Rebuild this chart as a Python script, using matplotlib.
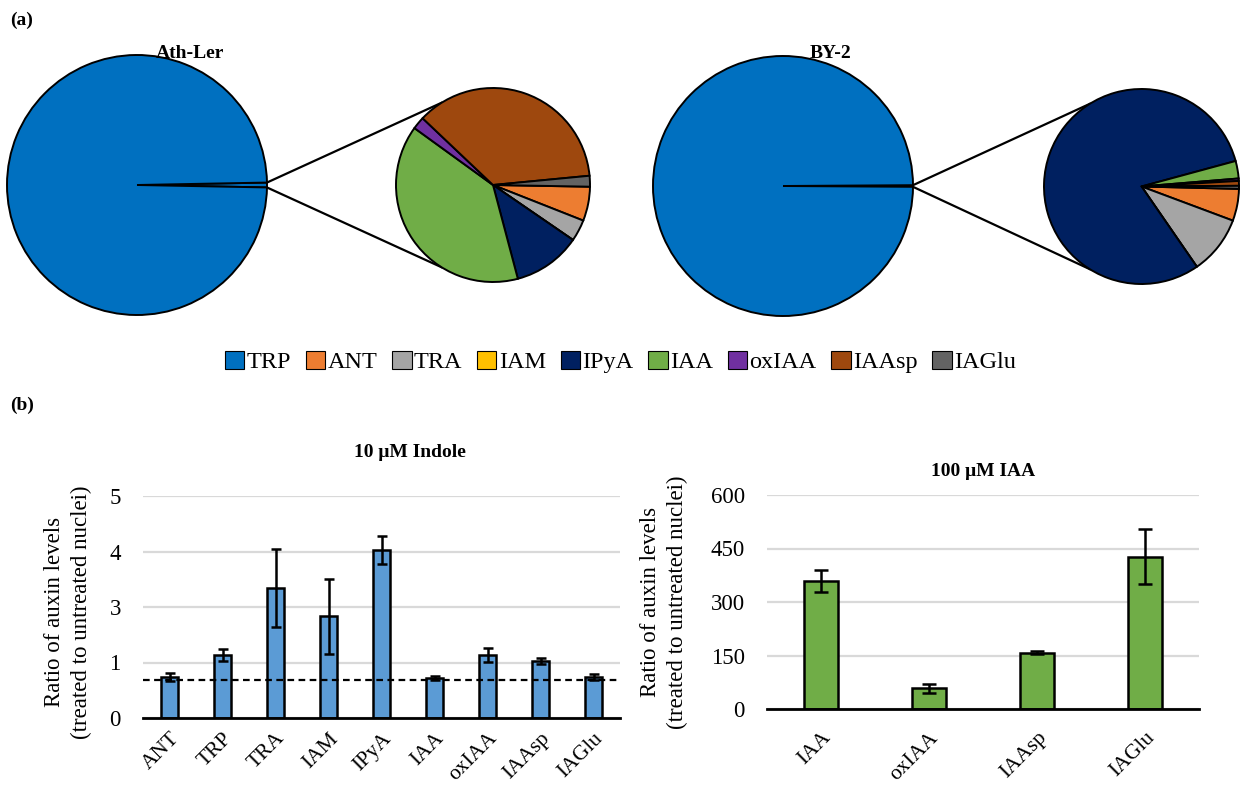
import numpy as np
import matplotlib.pyplot as plt
from matplotlib.patches import Patch

plt.rcParams['font.family'] = ['Liberation Serif', 'DejaVu Serif']

# pie data: TRP share of the main pie (%), the rest split in the secondary pie (%)
compounds = ['TRP', 'ANT', 'TRA', 'IAM', 'IPyA', 'IAA', 'oxIAA', 'IAAsp', 'IAGlu']
colors = ['#0070C0', '#ED7D31', '#A5A5A5', '#FFC000', '#002060',
          '#70AD47', '#7030A0', '#9E480E', '#636363']
ath_trp = 99.4
ath_minor = [5.7, 3.6, 0.0, 11.3, 39.1, 2.1, 36.4, 1.8]
by2_trp = 99.8
by2_minor = [5.3, 9.7, 0.0, 80.4, 2.9, 0.4, 0.8, 0.5]

# bar data
indole_cats = ['ANT', 'TRP', 'TRA', 'IAM', 'IPyA', 'IAA', 'oxIAA', 'IAAsp', 'IAGlu']
indole_vals = [0.74, 1.14, 2.34, 1.83, 3.03, 0.72, 1.14, 1.02, 0.74]
indole_err = [0.07, 0.11, 0.70, 0.68, 0.25, 0.035, 0.13, 0.055, 0.05]
indole_ticks = ['0', '1', '3', '4', '5']
indole_ref = 0.69

iaa_cats = ['IAA', 'oxIAA', 'IAAsp', 'IAGlu']
iaa_vals = [359, 58, 158, 427]
iaa_err = [30, 13, 4, 77]

W, H = 1241, 792
fig = plt.figure(figsize=(W / 100, H / 100), dpi=100)

# pie area in pixel coordinates
pax = fig.add_axes([0, 0, 1, 1])


def Y(y):
    return H - y


def pie_of_pie(trp, minor, c_main, R, c_sec, r, start2):
    other = 100 - trp
    h = 360 * other / 100 / 2
    pax.pie([other, trp], colors=['#0070C0', colors[0]], startangle=h, counterclock=False,
            center=(c_main[0], Y(c_main[1])), radius=R,
            wedgeprops=dict(edgecolor='black', linewidth=1.4))
    pax.pie(minor, colors=colors[1:], startangle=start2, counterclock=False,
            center=(c_sec[0], Y(c_sec[1])), radius=r,
            wedgeprops=dict(edgecolor='black', linewidth=1.4))
    for sgn in (1, -1):
        a1 = np.radians(sgn * h)
        a2 = np.radians(sgn * 122)
        pax.plot([c_main[0] + R * np.cos(a1), c_sec[0] + r * np.cos(a2)],
                 [Y(c_main[1]) + R * np.sin(a1), Y(c_sec[1]) + r * np.sin(a2)],
                 color='black', lw=1.6, zorder=0)


pie_of_pie(ath_trp, ath_minor, (137, 185), 130, (493, 185), 97, -1)
pie_of_pie(by2_trp, by2_minor, (783, 186), 130, (1141.5, 186.5), 97.5, -1.4)
pax.set_xlim(0, W)
pax.set_ylim(0, H)
pax.set_aspect('equal')
pax.axis('off')

fig.text(10 / W, 1 - 20 / H, '(a)', fontsize=14, fontweight='bold', va='center')
fig.text(190 / W, 1 - 53 / H, 'Ath-Ler', fontsize=14, fontweight='bold', ha='center', va='center')
fig.text(831 / W, 1 - 53 / H, 'BY-2', fontsize=14, fontweight='bold', ha='center', va='center')
fig.text(10 / W, 1 - 405 / H, '(b)', fontsize=14, fontweight='bold', va='center')

handles = [Patch(facecolor=c, edgecolor='black', linewidth=0.8) for c in colors]
fig.legend(handles, compounds, loc='center', bbox_to_anchor=(0.5, 1 - 362 / H), ncol=9,
           frameon=False, fontsize=17.5, handlelength=0.8, handleheight=0.8,
           handletextpad=0.1, columnspacing=0.6)


def style_bars(ax):
    for s in ['top', 'right', 'left']:
        ax.spines[s].set_visible(False)
    ax.spines['bottom'].set_linewidth(2)
    ax.spines['bottom'].set_zorder(5)
    ax.yaxis.grid(True, color='#D9D9D9', lw=1.6)
    ax.set_axisbelow(True)
    ax.tick_params(length=0, labelsize=16.5, pad=16)
    ax.tick_params(axis='x', labelsize=15.5, pad=8)


# left bar chart
ax1 = fig.add_axes([143 / W, 1 - 718 / H, 477 / W, 222 / H])
x1 = np.arange(len(indole_cats))
ax1.bar(x1, indole_vals, width=0.33, color='#5B9BD5', edgecolor='black', linewidth=1.8, zorder=2)
ax1.errorbar(x1, indole_vals, yerr=indole_err, fmt='none', ecolor='black', elinewidth=1.8,
             capsize=3.6, capthick=1.8, zorder=3)
ax1.axhline(indole_ref, color='black', lw=1.6, ls=(0, (3, 2)), zorder=4)
ax1.set_xlim(-0.5, len(indole_cats) - 0.5)
ax1.set_ylim(0, 4)
ax1.set_yticks(range(5))
ax1.set_yticklabels(indole_ticks)
ax1.set_xticks(x1)
ax1.set_xticklabels(indole_cats, rotation=45, ha='right', rotation_mode='anchor')
style_bars(ax1)
ax1.set_title('10 μM Indole', fontsize=14, fontweight='bold', x=0.56, pad=28)
fig.text(68 / W, 1 - 612 / H, 'Ratio of auxin levels\n(treated to untreated nuclei)',
         rotation=90, ha='center', va='center', fontsize=16.5, linespacing=1.35)

# right bar chart
ax2 = fig.add_axes([767 / W, 1 - 709 / H, 432 / W, 214 / H])
x2 = np.arange(len(iaa_cats))
ax2.bar(x2, iaa_vals, width=0.32, color='#70AD47', edgecolor='black', linewidth=1.8, zorder=2)
ax2.errorbar(x2, iaa_vals, yerr=iaa_err, fmt='none', ecolor='black', elinewidth=1.8,
             capsize=4.7, capthick=1.8, zorder=3)
ax2.set_xlim(-0.5, len(iaa_cats) - 0.5)
ax2.set_ylim(0, 600)
ax2.set_yticks([0, 150, 300, 450, 600])
ax2.set_xticks(x2)
ax2.set_xticklabels(iaa_cats, rotation=45, ha='right', rotation_mode='anchor')
style_bars(ax2)
ax2.tick_params(axis='x', pad=14)
ax2.set_title('100 μM IAA', fontsize=14, fontweight='bold', pad=14)
fig.text(664 / W, 1 - 602 / H, 'Ratio of auxin levels\n(treated to untreated nuclei)',
         rotation=90, ha='center', va='center', fontsize=16.5, linespacing=1.35)

fig.savefig('out.png', dpi=100)
